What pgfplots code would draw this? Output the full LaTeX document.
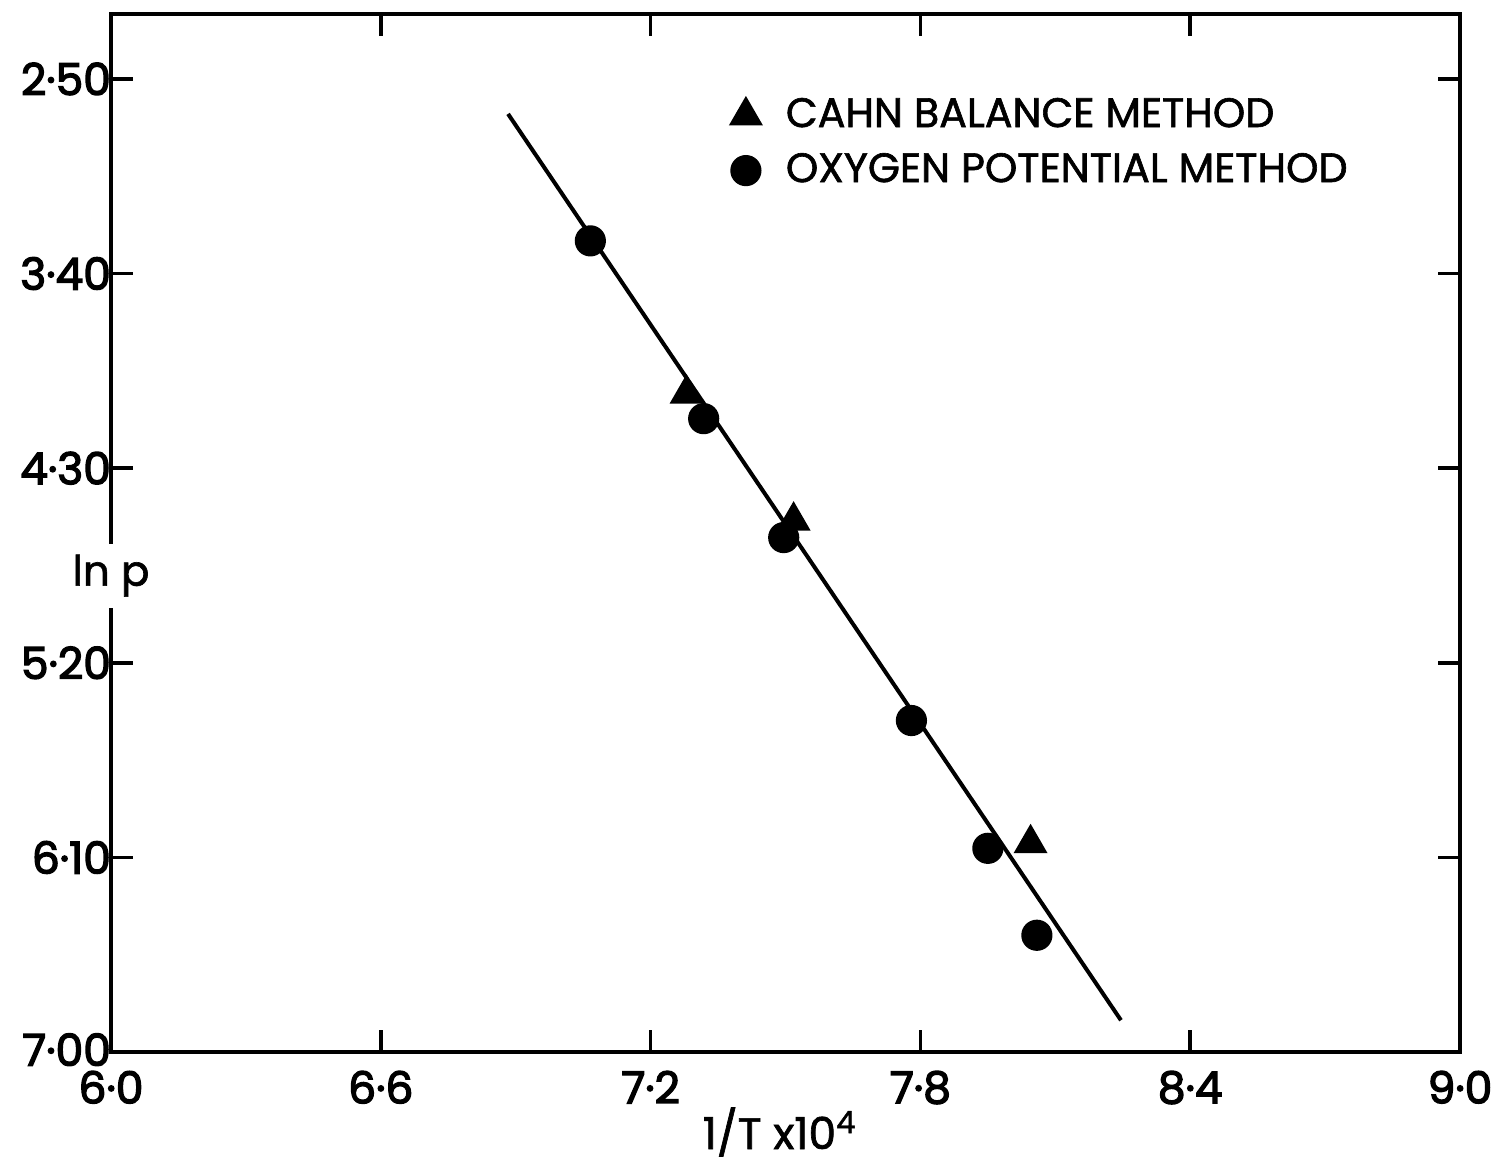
\documentclass[border=0pt]{standalone}
\usepackage{fontspec}
\setmainfont{Poppins}
\newfontfamily\tickfont[FakeBold=3]{Poppins}
\newfontfamily\legfont[FakeBold=1.5]{Poppins}
\usepackage{pgfplots}
\pgfplotsset{compat=1.18}
\pgfplotsset{legend image code/.code={\draw[#1] plot coordinates {(0pt,0pt)}; \path[draw=none,fill=none] (-4pt,0pt) -- (8pt,0pt);}}
\begin{document}
\begin{tikzpicture}
\path[use as bounding box] (-27.75pt,-27.25pt) rectangle (346pt,263pt);
\begin{axis}[
  at={(0,0)}, anchor=south west,
  scale only axis, width=337.25pt, height=259.5pt,
  xmin=6, xmax=9, ymin=2.2, ymax=7.0, y dir=reverse,
  axis line style={line width=0.9pt},
  tick style={line width=0.9pt, black},
  major tick length=5.5pt,
  tick align=inside,
  xtick={6.0,6.6,7.2,7.8,8.4,9.0},
  xticklabels={6·0,6·6,7·2,7·8,8·4,9·0},
  ytick={2.5,3.4,4.3,5.2,6.1,7.0},
  yticklabels={2·50,3·40,4·30,5·20,6·10,\raisebox{1.2pt}{7·00}},
  ticklabel style={font=\tickfont\fontsize{11}{12}\selectfont},
  yticklabel style={xshift=3.5pt},
  xticklabel style={yshift=-1.2pt},
  xlabel={1/T x10\textsuperscript{4}},
  xlabel style={at={(axis description cs:0.496,0)}, anchor=center, yshift=-20pt, font=\legfont\fontsize{11}{12}\selectfont},
  ylabel={ln p},
  ylabel style={at={(axis description cs:0,0.459)}, rotate=-90, anchor=center, fill=white, inner sep=2pt, minimum height=16pt, font=\legfont\fontsize{10.5}{12}\selectfont},
  legend style={draw=none, fill=none, at={(rel axis cs:0.4493,0.8757)}, anchor=west, font=\legfont\fontsize{10.3}{12}\selectfont, row sep=1pt},
  legend cell align=left,
]
\addplot[black, line width=1pt, forget plot] coordinates {(6.883,2.662) (8.246,6.853)};
\addplot[only marks, mark=triangle*, mark size=4.5pt, black]
  coordinates {(7.280,3.956) (7.518,4.543) (8.045,6.035)};
\addplot[only marks, mark=*, mark size=3.7pt, black]
  coordinates {(7.066,3.249) (7.318,4.071) (7.496,4.621) (7.780,5.467) (7.950,6.058) (8.059,6.460)};
\legend{CAHN BALANCE METHOD, OXYGEN POTENTIAL METHOD}
\end{axis}
\end{tikzpicture}
\end{document}
